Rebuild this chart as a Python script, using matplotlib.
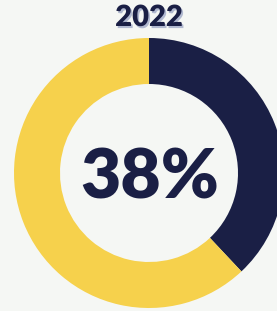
import matplotlib.pyplot as plt
import matplotlib.patheffects as pe

# data
labels = ['2022', 'rest']
values = [38, 62]
colors = ['#1a1f45', '#f6d14c']
title = '2022'
center_text = '38%'

bg = '#f5f7f4'

fig = plt.figure(figsize=(2.77, 3.11), dpi=100, facecolor=bg)
ax = fig.add_axes([0, 0, 1, 1])
ax.set_facecolor(bg)

# donut, drawn in pixel-like coordinates
cx, cy, r_out, width = 149, 138, 135, 46
ax.pie(values, colors=colors, startangle=90, counterclock=False,
       center=(cx, cy), radius=r_out,
       wedgeprops=dict(width=width, linewidth=0))

ax.text(cx + 1, cy, center_text, ha='center', va='center_baseline',
        fontsize=50, fontweight='heavy', color='#1a1f45',
        family=['Lato', 'DejaVu Sans'])

ax.text(cx, 293, title, ha='center', va='center',
        fontsize=21, fontweight='heavy', color='#1a1f45',
        family=['Lato', 'DejaVu Sans'],
        path_effects=[pe.SimplePatchShadow(offset=(1.2, -1.5),
                                           shadow_rgbFace='#aab3cc', alpha=0.9),
                      pe.Normal()])

ax.set_xlim(0, 277)
ax.set_ylim(0, 311)
ax.set_aspect('auto')
ax.axis('off')

fig.savefig('out.png', dpi=100, facecolor=bg)
